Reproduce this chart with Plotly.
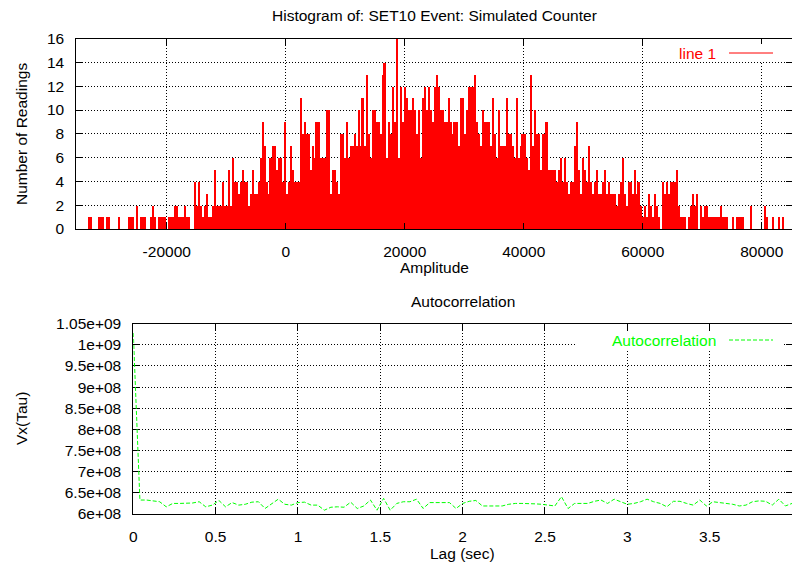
import numpy as np
import plotly.graph_objects as go

W, H = 792, 566

# ---------------- Histogram of the simulated counter ----------------
hist_start = -35200       # amplitude at the left edge of the first bin
hist_bin_width = 336      # amplitude units covered by each bin
hist_counts = [
    0, 0, 0, 0, 0, 0, 1, 1, 0, 0, 0, 1, 1, 1, 0, 1, 1, 0, 0, 0,
    0, 1, 0, 0, 0, 0, 1, 1, 1, 0, 2, 0, 1, 1, 1, 0, 0, 1, 2, 1,
    0, 1, 1, 1, 1, 0, 1, 1, 1, 2, 2, 1, 1, 1, 2, 1, 1, 0, 0, 4,
    2, 4, 2, 1, 2, 3, 1, 1, 2, 5, 2, 2, 2, 4, 2, 2, 5, 2, 6, 4,
    4, 3, 4, 5, 4, 4, 2, 3, 5, 3, 3, 4, 6, 9, 7, 4, 3, 6, 7, 7,
    5, 6, 6, 4, 9, 3, 4, 7, 5, 4, 4, 4, 11, 8, 9, 8, 8, 5, 7, 6,
    9, 9, 6, 6, 6, 10, 10, 3, 5, 5, 4, 3, 8, 8, 6, 9, 6, 7, 7, 8,
    7, 10, 7, 11, 7, 13, 8, 6, 10, 10, 9, 9, 8, 13, 14, 6, 9, 8, 12, 9,
    16, 6, 12, 9, 12, 11, 10, 10, 11, 10, 8, 10, 6, 11, 12, 10, 12, 10, 9, 12,
    13, 12, 10, 10, 9, 9, 11, 9, 8, 9, 9, 7, 11, 11, 8, 10, 12, 12, 12, 13,
    9, 8, 7, 10, 9, 9, 9, 7, 11, 8, 6, 10, 7, 7, 7, 11, 8, 8, 7, 6,
    11, 6, 7, 8, 8, 6, 5, 13, 7, 10, 8, 8, 5, 8, 8, 9, 5, 5, 5, 5,
    4, 5, 6, 4, 6, 4, 3, 4, 4, 7, 9, 5, 3, 6, 5, 4, 7, 4, 3, 4,
    5, 3, 3, 4, 5, 3, 4, 3, 3, 3, 2, 3, 4, 6, 3, 2, 4, 4, 3, 5,
    3, 4, 2, 1, 2, 1, 3, 2, 1, 3, 2, 1, 0, 4, 3, 4, 3, 4, 4, 4,
    5, 2, 1, 1, 1, 0, 1, 2, 3, 2, 3, 0, 2, 1, 2, 2, 1, 1, 1, 1,
    1, 1, 2, 1, 1, 1, 0, 0, 1, 0, 1, 1, 1, 1, 0, 0, 0, 2, 0, 0,
    0, 0, 0, 0, 2, 1, 0, 0, 1, 0, 0, 1, 0, 1, 0, 0, 0, 0,
]
amp_range = [-35200, 85090]
amp_ticks = [-20000, 0, 20000, 40000, 60000, 80000]
amp_tick_labels = ["-20000", "0", "20000", "40000", "60000", "80000"]
count_ticks = [0, 2, 4, 6, 8, 10, 12, 14, 16]

# ---------------- Autocorrelation of the readings ----------------
lag_step = 0.04           # seconds between lag samples
vx_tau_e8 = [
    10.28, 6.33, 6.33, 6.31, 6.29, 6.17, 6.25, 6.25, 6.25, 6.26,
    6.29, 6.17, 6.21, 6.32, 6.17, 6.27, 6.21, 6.23, 6.28, 6.29,
    6.13, 6.25, 6.35, 6.23, 6.21, 6.27, 6.28, 6.21, 6.21, 6.09,
    6.16, 6.17, 6.16, 6.28, 6.13, 6.19, 6.33, 6.09, 6.37, 6.09,
    6.25, 6.29, 6.29, 6.35, 6.13, 6.27, 6.27, 6.27, 6.27, 6.13,
    6.25, 6.30, 6.32, 6.19, 6.19, 6.19, 6.19, 6.23, 6.25, 6.25,
    6.25, 6.24, 6.23, 6.21, 6.19, 6.41, 6.13, 6.25, 6.25, 6.25,
    6.30, 6.33, 6.25, 6.35, 6.29, 6.23, 6.25, 6.29, 6.35, 6.29,
    6.25, 6.17, 6.30, 6.30, 6.25, 6.21, 6.33, 6.19, 6.29, 6.27,
    6.25, 6.23, 6.19, 6.21, 6.29, 6.31, 6.30, 6.21, 6.35, 6.19,
    6.25,
]
lag_ticks = [0, 0.5, 1, 1.5, 2, 2.5, 3, 3.5, 4]
lag_tick_labels = ["0", "0.5", "1", "1.5", "2", "2.5", "3", "3.5", "4"]
vx_ticks = [6.0e8, 6.5e8, 7.0e8, 7.5e8, 8.0e8, 8.5e8, 9.0e8, 9.5e8, 1.0e9, 1.05e9]

RED = "#ff0000"
GREEN = "#00ff00"
FONT = "Liberation Sans, Arial, sans-serif"
FS = 15.5


def px(x):
    return x / W


def py(y):
    return 1 - y / H


counts = np.array(hist_counts)
bin_centers = hist_start + hist_bin_width * (np.arange(len(counts)) + 0.5)
vx_tau = np.array(vx_tau_e8) * 1e8
lags = lag_step * np.arange(len(vx_tau))

fig = go.Figure()
fig.add_trace(go.Bar(
    x=bin_centers, y=counts, width=hist_bin_width,
    marker=dict(color=RED, line=dict(width=0)),
    xaxis="x", yaxis="y", showlegend=False, hoverinfo="skip",
))
fig.add_trace(go.Scatter(
    x=lags, y=vx_tau, mode="lines",
    line=dict(color=GREEN, width=1, dash="4px,2px"),
    xaxis="x2", yaxis="y2", showlegend=False, hoverinfo="skip",
))

axis_common = dict(
    showline=True, linecolor="#000", linewidth=1, mirror="ticks",
    ticks="inside", ticklen=6, tickcolor="#000", tickwidth=1,
    showgrid=True, gridcolor="#000", gridwidth=1, griddash="1px,2px",
    zeroline=False, automargin=False,
    tickfont=dict(family=FONT, size=FS, color="#000"),
    fixedrange=True,
)

top_lo, top_hi = py(229.0), py(38.7)
bot_lo, bot_hi = py(514.0), py(323.7)

fig.update_layout(
    width=W, height=H, autosize=False,
    margin=dict(l=0, r=0, t=0, b=0, pad=0),
    paper_bgcolor="white", plot_bgcolor="white",
    bargap=0,
    font=dict(family=FONT, size=FS, color="#000"),
    xaxis=dict(domain=[px(76.3), 1.0], anchor="y", range=amp_range,
               tickvals=amp_ticks, ticktext=amp_tick_labels,
               ticklabelstandoff=8, **axis_common),
    yaxis=dict(domain=[top_lo, top_hi], anchor="x", range=[0, 16],
               tickvals=count_ticks, ticklabelstandoff=8, **axis_common),
    xaxis2=dict(domain=[px(133.3), 1.0], anchor="y2", range=[0, 4],
                tickvals=lag_ticks, ticktext=lag_tick_labels,
                ticklabelstandoff=8, **axis_common),
    yaxis2=dict(domain=[bot_lo, bot_hi], anchor="x2", range=[6.0e8, 1.05e9],
                tickvals=vx_ticks, ticktext=["%g" % v for v in vx_ticks],
                ticklabelstandoff=8, layer="below traces", **axis_common),
)


def label(text, x, y, color="#000", angle=0, xanchor="center"):
    fig.add_annotation(
        text=text, x=px(x), y=py(y), xref="paper", yref="paper",
        xanchor=xanchor, yanchor="middle", showarrow=False, textangle=angle,
        font=dict(family=FONT, size=FS, color=color),
    )


# Titles and axis labels
label("Histogram of: SET10 Event: Simulated Counter", 434.3, 16)
label("Amplitude", 434.3, 267)
label("Number of Readings", 21, 134, angle=-90)
label("Autocorrelation", 462.8, 301)
label("Lag (sec)", 462.8, 553)
label("Vx(Tau)", 21, 419, angle=-90)


def key(text, color, y, box_left, dash):
    # opaque key box over the grid, then its line sample and text
    fig.add_shape(type="rect", xref="paper", yref="paper", layer="above",
                  x0=px(box_left), x1=px(783), y0=py(y + 9), y1=py(y - 9),
                  fillcolor="white", line=dict(width=0))
    fig.add_shape(type="line", xref="paper", yref="paper", layer="above",
                  x0=px(729), x1=px(773), y0=py(y), y1=py(y),
                  line=dict(color=color, width=1, dash=dash))
    label(text, 718, y, color=color, xanchor="right")


key("line 1", RED, 53, 672, "solid")
key("Autocorrelation", GREEN, 340, 576, "4px,2px")

fig.write_html(
    "out.html",
    config={"displayModeBar": False, "responsive": False},
    post_script="document.body.style.margin='0';"
                "document.body.style.overflow='hidden';",
)
